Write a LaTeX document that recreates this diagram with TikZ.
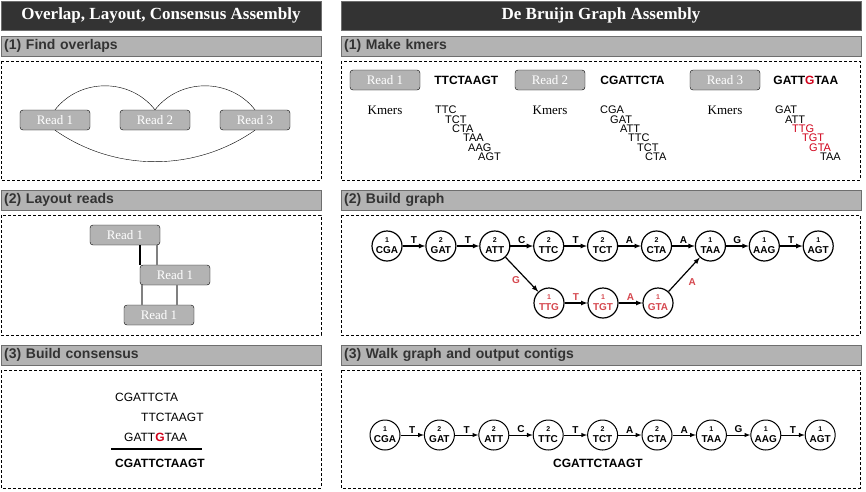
\documentclass[tikz,border=0pt]{standalone}
\usepackage{fontspec}
\setmainfont{Liberation Serif}
\setsansfont{Liberation Sans}
\usetikzlibrary{arrows,calc,positioning}
\definecolor{darkhead}{HTML}{333333}
\definecolor{barfill}{HTML}{B3B3B3}
\definecolor{bardraw}{HTML}{6E6E6E}
\definecolor{seqred}{HTML}{D0021B}
\definecolor{pathred}{HTML}{D5474E}
\newcommand\knum{\fontsize{7}{7}\selectfont}
\tikzset{
  head/.style  = {draw=bardraw, fill=darkhead, text=white, inner sep=0pt,
                  font=\fontsize{17}{20}\selectfont\bfseries,
                  minimum width=320pt, minimum height=29pt},
  bar/.style   = {draw=bardraw, fill=barfill, text=darkhead, anchor=north west,
                  font=\fontsize{14}{16}\selectfont\sffamily\bfseries,
                  text width=314pt, align=left, inner xsep=3pt, inner ysep=0pt,
                  minimum height=20pt},
  panel/.style = {draw, thin, dash pattern=on 3pt off 2pt},
  read/.style  = {draw, fill=barfill, text=white, rounded corners=3pt,
                  minimum width=70pt, minimum height=20pt, inner sep=0pt,
                  font=\fontsize{13}{15}\selectfont},
  kmlab/.style = {inner sep=0pt, font=\fontsize{13}{15}\selectfont},
  seq/.style   = {anchor=west, inner sep=0pt, font=\fontsize{12}{14}\selectfont\sffamily},
  bseq/.style  = {seq, font=\fontsize{12}{14}\selectfont\sffamily\bfseries},
  kmer/.style  = {seq, font=\fontsize{11}{12}\selectfont\sffamily},
  kn/.style    = {draw, circle, line width=1.2pt, minimum size=30pt, inner sep=0pt,
                  align=center, font=\fontsize{10}{11}\selectfont\sffamily\bfseries},
  kw/.style    = {kn, line width=1pt},
  el/.style    = {above, inner sep=1.5pt, font=\fontsize{10}{12}\selectfont\sffamily\bfseries},
  edge/.style  = {-latex, line width=1.2pt}
}

\begin{document}
\begin{tikzpicture}[x=1pt, y=-1pt]
  \useasboundingbox (0,0) rectangle (866,491);

  % column headers
  \node[head] (hl) at (161,15.5) {Overlap, Layout, Consensus Assembly};
  \node[head, minimum width=520pt] (hr) at (601,15.5) {De Bruijn Graph Assembly};

  % step bars, left and right
  \node[bar] (bl1) at (1,36)  {(1) Find overlaps};
  \node[bar] (bl2) at (1,190) {(2) Layout reads};
  \node[bar] (bl3) at (1,345) {(3) Build consensus};
  \begin{scope}[every node/.style={bar, text width=514pt}]
  \node (br1) at (341,36)  {(1) Make kmers};
  \node (br2) at (341,190) {(2) Build graph};
  \node (br3) at (341,345) {(3) Walk graph and output contigs};
  \end{scope}

  % dashed panels
  \foreach \xa/\xb in {1/321, 341/860} {
    \draw[panel] (\xa,61)  rectangle (\xb,180);
    \draw[panel] (\xa,215) rectangle (\xb,335);
    \draw[panel] (\xa,370) rectangle (\xb,488);
  }

  % (1) find overlaps
  \node[read] (o1) at (55,120)  {Read 1};
  \node[read] (o2) at (155,120) {Read 2};
  \node[read] (o3) at (255,120) {Read 3};
  \draw (o1.north) .. controls +(25,-32) and +(-25,-32) .. (o2.north);
  \draw (o2.north) .. controls +(25,-32) and +(-25,-32) .. (o3.north);
  \draw (o1.south) .. controls +(60,42) and +(-60,42) .. (o3.south);

  % (2) layout reads
  \node[read] (l1) at (125,235) {Read 1};
  \node[read] (l2) at (175,275) {Read 1};
  \node[read] (l3) at (159,315) {Read 1};
  \draw[line width=1.4pt] (l2.north west) -- ($(l1.south west)+(50,0)$);
  \draw[line width=1.4pt, gray] ($(l1.south west)+(67,0)$) -- ($(l2.north west)+(17,0)$);
  \draw[line width=1.4pt, gray] ($(l2.south west)+(2,0)$) -- ($(l3.north west)+(18,0)$);
  \draw[line width=1.4pt, gray] ($(l2.south west)+(37,0)$) -- ($(l3.north west)+(53,0)$);

  % (3) build consensus
  \node[seq] (c1) at (115,397) {CGATTCTA};
  \node[seq] (c2) at (141,417) {TTCTAAGT};
  \node[seq] (c3) at (124,437) {GATT{\bfseries\color{seqred}G}TAA};
  \draw[line width=2pt] (111,449) -- (202,449);
  \node[bseq] (c4) at (115,463) {CGATTCTAAGT};

  % (1) make kmers
  \node[read] (k1) at (385,80) {Read 1};
  \node[read] (k2) at (550,80) {Read 2};
  \node[read] (k3) at (725,80) {Read 3};
  \node[bseq, right=14pt of k1] (s1) {TTCTAAGT};
  \node[bseq, right=15pt of k2] (s2) {CGATTCTA};
  \node[bseq, right=13pt of k3] (s3) {GATT{\color{seqred}G}TAA};
  \foreach \value in {1,2,3}
    \node[kmlab] (m\value) at (k\value |- 0,110) {Kmers};
  \foreach \km/\x [count=\i] in {TTC/435,TCT/445,CTA/452,TAA/463,AAG/468,AGT/478}
    \node[kmer] (ka\i) at (\x,{110+9.4*(\i-1)}) {\km};
  \foreach \km/\x [count=\i] in {CGA/600,GAT/610,ATT/620,TTC/628,TCT/637,CTA/645}
    \node[kmer] (kb\i) at (\x,{110+9.4*(\i-1)}) {\km};
  \foreach \km/\x/\c [count=\i] in {GAT/775/black,ATT/785/black,TTG/792/seqred,
                                     TGT/802/seqred,GTA/809/seqred,TAA/820/black}
    \node[kmer, text=\c] (kc\i) at (\x,{110+9.4*(\i-1)}) {\km};

  % (2) build graph
  \foreach \km/\cnt [count=\i] in {CGA/1,GAT/2,ATT/2,TTC/2,TCT/2,CTA/2,TAA/1,AAG/1,AGT/1}
    \node[kn] (b\i) at ({387+53.9*(\i-1)},246) {{\knum\cnt}\\\km};
  \foreach \e [count=\i] in {T,T,C,T,A,A,G,T} {
    \pgfmathtruncatemacro\j{\i+1}
    \draw[edge] (b\i) -- node[el] {\e} (b\j);
  }
  \begin{scope}[every node/.append style={text=pathred}]
  \node[kn] (r1) at (549,303) {{\knum 1}\\TTG};
  \node[kn] (r2) at (603,303) {{\knum 1}\\TGT};
  \node[kn] (r3) at (658,303) {{\knum 1}\\GTA};
  \draw[edge] (b3) -- node[el, below left, pos=0.5] {G} (r1);
  \draw[edge] (r1) -- node[el] {T} (r2);
  \draw[edge] (r2) -- node[el] {A} (r3);
  \draw[edge] (r3) -- node[el, below right, pos=0.45, xshift=4pt] {A} (b7);
  \end{scope}

  % (3) walk graph and output contigs
  \foreach \km/\cnt [count=\i] in {CGA/1,GAT/2,ATT/2,TTC/2,TCT/2,CTA/2,TAA/1,AAG/1,AGT/1}
    \node[kw] (w\i) at ({385+54.4*(\i-1)},435) {{\knum\cnt}\\\km};
  \foreach \e [count=\i] in {T,T,C,T,A,A,G,T} {
    \pgfmathtruncatemacro\j{\i+1}
    \draw[edge, line width=1pt] (w\i) -- node[el] {\e} (w\j);
  }
  \node[bseq, anchor=center] (contig) at (598,463) {CGATTCTAAGT};
\end{tikzpicture}
\end{document}
